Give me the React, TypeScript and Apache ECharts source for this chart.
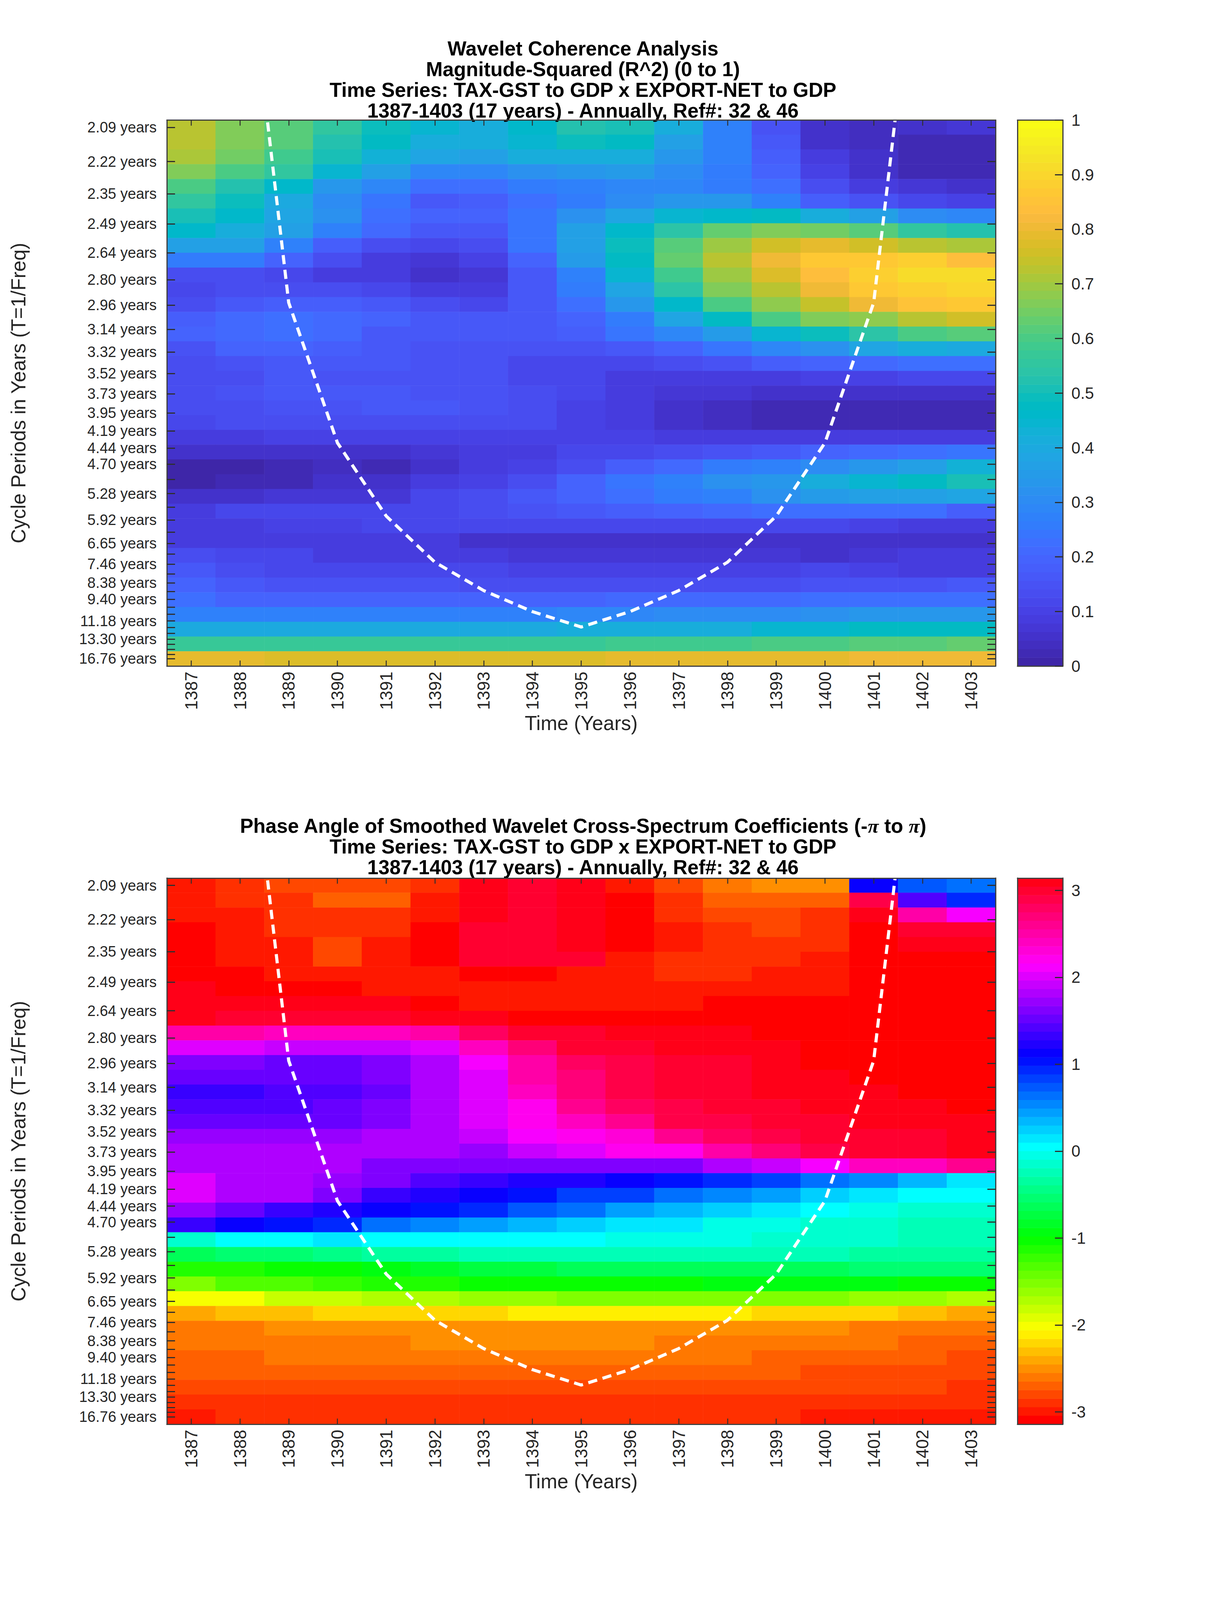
import React, { useEffect, useRef } from "react";
import * as echarts from "echarts";

const years = ["1387","1388","1389","1390","1391","1392","1393","1394","1395","1396","1397","1398","1399","1400","1401","1402","1403"];
const tickPeriods = [2.095,2.22,2.352,2.491,2.64,2.797,2.963,3.139,3.326,3.524,3.733,3.955,4.19,4.439,4.703,4.983,5.279,5.593,5.926,6.278,6.652,7.047,7.466,7.91,8.38,8.879,9.407,9.966,10.559,11.187,11.852,12.557,13.304,14.095,14.933,15.821,16.76];
const tickLabels = ["2.09","2.22","2.35","2.49","2.64","2.80","2.96","3.14","3.32","3.52","3.73","3.95","4.19","4.44","4.70","","5.28","","5.92","","6.65","","7.46","","8.38","","9.40","","","11.18","","","13.30","","","","16.76"];
const coiPeriods = [null,1.5,2.945,4.36,5.82,7.38,8.83,10.34,11.82,10.34,8.83,7.38,5.82,4.36,2.945,1.5,null];

const coherence = [
[.73,.67,.61,.55,.49,.44,.42,.46,.53,.51,.41,.28,.15,.05,.04,.05,.07],
[.73,.67,.61,.53,.47,.42,.42,.45,.49,.47,.37,.27,.16,.06,.04,.03,.03],
[.71,.65,.58,.50,.43,.39,.37,.41,.41,.41,.34,.27,.18,.09,.05,.03,.03],
[.67,.60,.55,.45,.36,.29,.29,.32,.34,.35,.31,.26,.19,.10,.06,.03,.03],
[.60,.53,.46,.34,.29,.23,.23,.25,.28,.29,.29,.26,.22,.13,.09,.07,.06],
[.55,.49,.40,.31,.24,.17,.18,.22,.26,.30,.33,.33,.27,.18,.15,.11,.10],
[.50,.46,.38,.32,.23,.19,.19,.24,.32,.39,.45,.46,.47,.42,.36,.30,.29],
[.46,.42,.37,.27,.21,.17,.17,.24,.37,.46,.54,.63,.67,.65,.61,.55,.53],
[.36,.36,.27,.18,.13,.12,.14,.24,.37,.49,.62,.70,.76,.79,.76,.73,.71],
[.26,.26,.19,.13,.08,.07,.10,.20,.35,.47,.63,.73,.81,.87,.87,.88,.83],
[.14,.14,.12,.08,.08,.06,.07,.16,.28,.44,.59,.70,.78,.83,.88,.92,.91],
[.12,.13,.14,.13,.12,.08,.09,.16,.25,.39,.54,.66,.72,.81,.87,.89,.90],
[.13,.16,.18,.18,.17,.14,.12,.16,.23,.33,.46,.60,.68,.74,.81,.85,.87],
[.18,.21,.23,.21,.20,.17,.16,.16,.19,.26,.38,.47,.60,.67,.68,.72,.75],
[.19,.21,.23,.21,.17,.17,.17,.16,.18,.24,.29,.35,.44,.49,.54,.60,.62],
[.15,.19,.19,.18,.17,.15,.15,.15,.15,.17,.20,.24,.29,.32,.39,.42,.40],
[.13,.15,.16,.16,.16,.15,.15,.12,.11,.11,.13,.15,.18,.20,.21,.22,.22],
[.13,.14,.16,.15,.15,.15,.15,.11,.11,.09,.09,.09,.09,.10,.10,.12,.11],
[.14,.15,.16,.16,.16,.15,.15,.13,.11,.09,.07,.07,.05,.06,.06,.06,.06],
[.13,.14,.15,.15,.16,.16,.15,.14,.10,.08,.06,.04,.03,.02,.02,.02,.02],
[.12,.13,.14,.14,.14,.14,.13,.13,.10,.08,.06,.04,.03,.03,.02,.02,.02],
[.08,.09,.10,.10,.10,.10,.10,.10,.10,.10,.08,.08,.08,.08,.08,.09,.09],
[.05,.05,.06,.06,.06,.07,.08,.09,.11,.12,.14,.15,.16,.19,.21,.22,.24],
[.01,.01,.03,.04,.03,.05,.08,.10,.13,.18,.21,.26,.28,.31,.34,.36,.43],
[.01,.02,.03,.05,.06,.08,.10,.14,.19,.24,.27,.32,.34,.42,.44,.47,.51],
[.05,.05,.07,.07,.07,.11,.13,.16,.20,.23,.26,.28,.32,.35,.36,.37,.38],
[.08,.11,.11,.12,.11,.12,.14,.15,.16,.18,.19,.21,.22,.23,.22,.22,.18],
[.09,.09,.10,.10,.11,.11,.11,.11,.11,.11,.11,.11,.11,.11,.10,.09,.09],
[.08,.08,.08,.08,.08,.08,.06,.06,.06,.06,.06,.06,.05,.05,.05,.05,.05],
[.13,.11,.11,.09,.09,.09,.09,.07,.07,.07,.07,.07,.07,.05,.07,.08,.08],
[.17,.14,.12,.12,.12,.11,.11,.10,.10,.10,.10,.10,.10,.11,.10,.09,.09],
[.19,.16,.15,.15,.15,.15,.14,.14,.14,.14,.14,.14,.14,.15,.15,.15,.17],
[.22,.20,.20,.20,.20,.20,.20,.20,.20,.21,.21,.21,.21,.22,.22,.22,.23],
[.28,.28,.27,.27,.27,.27,.27,.28,.29,.29,.30,.30,.31,.32,.33,.33,.34],
[.40,.40,.40,.40,.40,.40,.40,.40,.41,.41,.41,.42,.44,.45,.47,.47,.48],
[.57,.57,.57,.57,.57,.57,.57,.57,.57,.58,.58,.58,.60,.60,.62,.62,.64],
[.79,.79,.77,.77,.77,.77,.77,.77,.78,.79,.79,.79,.79,.79,.81,.81,.81],
];

const phase = [
[-3.0,-2.9,-2.8,-2.8,-2.8,-2.9,3.1,3.0,3.1,-3.0,-2.8,-2.6,-2.5,-2.5,1.17,.72,.65],
[-3.0,-2.9,-2.9,-2.7,-2.7,-3.0,3.1,3.0,3.1,-3.12,-2.9,-2.7,-2.7,-2.7,2.9,1.45,.98],
[-3.0,-3.0,-2.9,-2.9,-2.9,-3.0,3.1,3.0,3.1,-3.12,-2.9,-2.8,-2.8,-2.9,3.05,2.5,2.1],
[-3.12,-3.0,-2.9,-2.9,-2.9,-3.12,3.0,3.0,3.1,-3.12,-3.0,-2.9,-2.8,-2.9,-3.12,3.0,3.0],
[-3.12,-3.0,-3.0,-2.8,-3.0,-3.12,3.0,3.0,3.1,-3.12,-3.0,-2.9,-2.9,-2.9,-3.12,3.05,3.05],
[-3.12,-3.0,-3.0,-2.8,-3.0,-3.12,3.0,3.0,3.0,-3.0,-2.9,-2.9,-2.9,-3.0,-3.12,-3.12,-3.12],
[-3.12,-3.12,-3.0,-3.0,-3.0,-3.0,-3.12,-3.12,-3.0,-3.0,-2.85,-2.85,-3.0,-3.0,-3.12,-3.12,-3.12],
[3.1,-3.12,-3.12,-3.12,-3.0,-3.0,-3.0,-3.0,-3.0,-3.0,-3.0,-3.0,-3.0,-3.0,-3.12,-3.12,-3.12],
[3.05,3.05,3.07,3.07,3.07,-3.12,-3.0,-3.0,-3.0,-3.0,-3.0,-3.12,-3.12,-3.12,-3.12,-3.12,-3.12],
[3.05,3.0,3.0,3.0,3.0,3.05,3.1,-3.12,-3.12,-3.12,-3.12,-3.12,-3.12,-3.12,-3.12,-3.12,-3.12],
[2.55,2.55,2.45,2.45,2.4,2.55,2.8,2.95,3.0,3.05,3.05,3.05,-3.12,-3.12,-3.12,-3.12,-3.12],
[2.0,2.0,1.9,1.9,1.9,2.05,2.4,2.7,2.95,3.0,3.05,3.07,3.1,-3.12,-3.12,-3.12,-3.12],
[1.6,1.6,1.55,1.55,1.65,1.78,2.15,2.5,2.75,2.9,2.97,3.02,3.05,-3.12,-3.12,-3.12,-3.12],
[1.5,1.5,1.5,1.5,1.6,1.78,2.05,2.5,2.7,2.85,3.0,3.0,3.05,3.05,-3.12,-3.12,-3.12],
[1.3,1.3,1.42,1.42,1.55,1.8,2.05,2.4,2.7,2.85,2.95,2.97,3.05,3.05,3.08,-3.12,-3.12],
[1.45,1.45,1.45,1.55,1.65,1.8,2.05,2.25,2.65,2.8,2.9,2.95,3.0,3.05,3.05,3.05,-3.12],
[1.5,1.5,1.5,1.55,1.65,1.8,2.05,2.2,2.4,2.65,2.85,2.9,2.95,3.0,3.07,3.07,3.07],
[1.7,1.7,1.7,1.7,1.85,1.85,1.95,2.1,2.2,2.3,2.6,2.8,2.9,3.0,3.0,3.0,3.07],
[1.8,1.8,1.8,1.8,1.8,1.8,1.75,1.95,2.0,2.2,2.2,2.5,2.7,2.9,2.95,2.97,3.05],
[1.85,1.85,1.78,1.78,1.65,1.65,1.65,1.65,1.65,1.65,1.65,1.78,1.9,2.1,2.4,2.4,2.65],
[1.97,1.85,1.78,1.7,1.6,1.42,1.3,1.25,1.2,1.1,1.05,.98,.87,.65,.52,.3,.1],
[1.97,1.85,1.78,1.6,1.35,1.25,1.1,1.05,.87,.8,.6,.55,.4,.2,.1,.02,.02],
[1.75,1.55,1.35,1.2,1.08,1.0,.95,.72,.62,.42,.35,.2,.1,.02,-.02,-.1,-.1],
[1.3,1.1,1.05,.9,.68,.58,.42,.3,.2,.1,.1,-.02,-.02,-.1,-.1,-.2,-.2],
[-.18,0,0,.1,.05,.05,0,0,0,-.08,-.08,-.08,-.15,-.15,-.15,-.22,-.22],
[-.65,-.55,-.55,-.42,-.38,-.32,-.25,-.25,-.25,-.25,-.25,-.25,-.25,-.25,-.32,-.32,-.32],
[-1.15,-1.15,-1.05,-1.02,-.95,-.8,-.7,-.7,-.65,-.65,-.65,-.65,-.6,-.6,-.55,-.55,-.55],
[-1.5,-1.35,-1.35,-1.2,-1.12,-1.1,-1.05,-1.05,-1.05,-1.05,-1.05,-.95,-.95,-.95,-.95,-1.0,-1.0],
[-1.97,-1.97,-1.85,-1.85,-1.75,-1.7,-1.65,-1.6,-1.5,-1.5,-1.5,-1.5,-1.5,-1.5,-1.65,-1.65,-1.75],
[-2.4,-2.3,-2.3,-2.2,-2.2,-2.2,-2.2,-2.1,-2.1,-2.1,-2.1,-2.1,-2.2,-2.2,-2.2,-2.3,-2.4],
[-2.6,-2.6,-2.5,-2.5,-2.5,-2.5,-2.5,-2.5,-2.5,-2.5,-2.5,-2.5,-2.5,-2.5,-2.6,-2.6,-2.6],
[-2.6,-2.6,-2.6,-2.6,-2.6,-2.5,-2.5,-2.5,-2.5,-2.5,-2.6,-2.6,-2.6,-2.6,-2.6,-2.7,-2.7],
[-2.7,-2.7,-2.6,-2.6,-2.6,-2.6,-2.6,-2.6,-2.6,-2.6,-2.6,-2.6,-2.7,-2.7,-2.7,-2.7,-2.8],
[-2.7,-2.7,-2.7,-2.7,-2.7,-2.7,-2.7,-2.7,-2.7,-2.7,-2.7,-2.7,-2.7,-2.8,-2.8,-2.8,-2.8],
[-2.8,-2.8,-2.8,-2.8,-2.8,-2.8,-2.8,-2.8,-2.8,-2.8,-2.8,-2.8,-2.8,-2.8,-2.8,-2.8,-2.9],
[-2.9,-2.9,-2.9,-2.9,-2.9,-2.9,-2.9,-2.9,-2.9,-2.9,-2.9,-2.9,-2.9,-2.9,-2.9,-2.9,-2.9],
[-3.0,-2.9,-2.9,-2.9,-2.9,-2.9,-2.9,-2.9,-2.9,-2.9,-2.9,-2.9,-2.9,-3.0,-3.0,-3.0,-3.0],
];

const parula = [[.2422,.1504,.6603],[.2504,.165,.7076],[.2578,.1818,.7511],[.2647,.1978,.7952],[.2706,.2147,.8364],[.2751,.2342,.871],[.2783,.2559,.8991],[.2803,.2782,.9221],[.2813,.3006,.9414],[.281,.3228,.9579],[.2795,.3447,.9717],[.276,.3667,.9829],[.2699,.3892,.9906],[.2602,.4123,.9952],[.244,.4358,.9988],[.2206,.4603,.9973],[.1963,.4847,.9892],[.1834,.5074,.9798],[.1786,.5289,.9682],[.1764,.5499,.952],[.1687,.5703,.9359],[.154,.5902,.9218],[.146,.6091,.9079],[.138,.6276,.8973],[.1248,.6459,.8883],[.1113,.6635,.8763],[.0952,.6798,.8598],[.0689,.6948,.8394],[.0297,.7082,.8163],[.0036,.7203,.7917],[.0067,.7312,.766],[.0433,.7411,.7394],[.0964,.75,.712],[.1408,.7584,.6842],[.1717,.767,.6554],[.1938,.7758,.6251],[.2161,.7843,.5923],[.247,.7918,.5567],[.2906,.7973,.5188],[.3406,.8008,.4789],[.3909,.8029,.4354],[.4456,.8024,.3909],[.5044,.7993,.348],[.5616,.7942,.3045],[.6174,.7876,.2612],[.672,.7793,.2227],[.7242,.7698,.191],[.7738,.7598,.1646],[.8203,.7498,.1535],[.8634,.7406,.1596],[.9035,.733,.1774],[.9393,.7288,.21],[.9728,.7298,.2394],[.9956,.7434,.2371],[.997,.7659,.2199],[.9952,.7861,.1996],[.9892,.8134,.1885],[.9786,.8386,.1766],[.9676,.8639,.1643],[.961,.889,.1537],[.9597,.9135,.1423],[.9628,.9373,.1265],[.9691,.9606,.1064],[.9769,.9839,.0805]];

const FONT = "Liberation Sans";
const INK = "#262626";
const LEVELS = 64;
const F_TOP = 0.4831;
const F_BOTTOM = 0.05384;
const PI = Math.PI;
const FULL_H = 6252;

const toHex = (c: number[]) => "#" + c.map((v) => Math.round(v * 255).toString(16).padStart(2, "0")).join("");
const parulaColors = parula.map(toHex);
const hsvColors = Array.from({ length: LEVELS }, (_, k) => {
  const h = (k / LEVELS) * 6;
  const i = Math.floor(h);
  const f = h - i;
  const table = [[1, f, 0], [1 - f, 1, 0], [0, 1, f], [0, 1 - f, 1], [f, 0, 1], [1, 0, 1 - f]];
  return toHex(table[i]);
});

const pieces = (colors: string[], min: number, max: number) =>
  colors.map((color, k) => ({
    gte: min + ((max - min) * k) / LEVELS,
    lt: k === LEVELS - 1 ? max + 1 : min + ((max - min) * (k + 1)) / LEVELS,
    color,
  }));

const tickValues = tickPeriods.map((p) => 1 / p);
const labelValues = tickValues.filter((_, i) => tickLabels[i] !== "");
const labelOf = (v: number) => {
  const i = tickValues.indexOf(v);
  return i >= 0 && tickLabels[i] ? `${tickLabels[i]} years` : "";
};

const textStyle = { fontFamily: FONT, color: INK };
const axisLine = { show: true, onZero: false, lineStyle: { color: "#404040", width: 3 } };

// The browser window may be shorter than the 6252px asked for; K keeps the
// reference's layout proportions so that the whole figure stays in view.
function buildOption(K: number) {
  const squeezed = K < 1;
  const fs = squeezed ? 0.8 : 1;
  const grid: any[] = [];
  const xAxis: any[] = [];
  const yAxis: any[] = [];
  const series: any[] = [];

  const PLOT = { left: 427, width: 2121, height: 2134 * K };
  const BAR = { left: 2604, width: 116 };

  const addPanel = (top: number, rows: number[][], colors: string[], min: number, max: number, barTicks: any) => {
    const g = grid.length;
    grid.push({ ...PLOT, top, containLabel: false });
    grid.push({ ...BAR, top, height: PLOT.height, containLabel: false });
    const x0 = xAxis.length;
    const y0 = yAxis.length;
    const tick = { show: true, inside: true, alignWithLabel: true, length: 22 * K, lineStyle: { color: "#303030", width: 2.5 } };
    xAxis.push({
      gridIndex: g, type: "category", data: years, position: "bottom", z: 10, axisLine, axisTick: tick,
      axisLabel: { ...textStyle, fontSize: squeezed ? 44 : 58, rotate: 90, margin: squeezed ? 14 : 26 },
      name: "Time (Years)", nameLocation: "middle", nameGap: squeezed ? 121 : 179,
      nameTextStyle: { ...textStyle, fontSize: 64 * fs },
    });
    xAxis.push({ gridIndex: g, type: "category", data: years, position: "top", z: 10, axisLine, axisTick: tick, axisLabel: { show: false } });
    xAxis.push({ gridIndex: g + 1, type: "category", data: ["bar"], position: "bottom", z: 10, axisLine, axisTick: { show: false }, axisLabel: { show: false } });
    xAxis.push({ gridIndex: g + 1, type: "category", data: ["bar"], position: "top", z: 10, axisLine, axisTick: { show: false }, axisLabel: { show: false } });
    const yTick = { show: true, inside: true, length: 21, customValues: tickValues, lineStyle: { color: "#303030", width: 3 } };
    yAxis.push({ gridIndex: g, type: "category", inverse: true, data: tickPeriods.map(String), position: "left", axisLine: { show: false }, axisTick: { show: false }, axisLabel: { show: false } });
    yAxis.push({
      gridIndex: g, type: "value", position: "left", min: F_BOTTOM, max: F_TOP, z: 10, splitLine: { show: false }, axisLine, axisTick: yTick,
      axisLabel: { ...textStyle, fontSize: squeezed ? 38 : 58, margin: 26, customValues: labelValues, formatter: labelOf, hideOverlap: false },
      name: "Cycle Periods in Years (T=1/Freq)", nameLocation: "middle", nameRotate: 90, nameGap: squeezed ? 354 : 349,
      nameTextStyle: { ...textStyle, fontSize: 64 * fs },
    });
    yAxis.push({ gridIndex: g, type: "value", position: "right", min: F_BOTTOM, max: F_TOP, z: 10, splitLine: { show: false }, axisLine, axisTick: yTick, axisLabel: { show: false } });
    const levelNames = colors.map((_, k) => String(k));
    yAxis.push({ gridIndex: g + 1, type: "category", data: levelNames, position: "left", z: 10, axisLine, axisTick: { show: false }, axisLabel: { show: false } });
    yAxis.push({
      gridIndex: g + 1, type: "value", position: "right", min, max, z: 10, splitLine: { show: false }, axisLine,
      axisTick: { show: true, inside: true, length: 20, customValues: barTicks, lineStyle: { color: "#303030", width: 3 } },
      axisLabel: { ...textStyle, fontSize: 52 * fs, margin: 22, customValues: barTicks, hideOverlap: false, formatter: (v: number) => String(Math.round(v * 10) / 10) },
    });
    const heatData: any[] = [];
    rows.forEach((row, r) => row.forEach((v, c) => heatData.push([c, r, v])));
    series.push({ type: "heatmap", xAxisIndex: x0, yAxisIndex: y0, data: heatData, itemStyle: { borderWidth: 0 }, emphasis: { disabled: true }, progressive: 0 });
    series.push({
      type: "line", xAxisIndex: x0, yAxisIndex: y0 + 1, z: 5, showSymbol: false, symbol: "none", clip: true, connectNulls: false,
      data: coiPeriods.map((p) => (p === null ? null : 1 / p)),
      lineStyle: { color: "#ffffff", width: 8, type: [36 * K, 22 * K], cap: "butt" },
    });
    series.push({
      type: "heatmap", xAxisIndex: x0 + 2, yAxisIndex: y0 + 3, progressive: 0, emphasis: { disabled: true },
      data: colors.map((_, k) => [0, k, min + ((max - min) * (k + 0.5)) / LEVELS]),
    });
    return { heat: series.length - 3, bar: series.length - 1 };
  };

  const a = addPanel(469 * K, coherence, parulaColors, 0, 1, [0, .1, .2, .3, .4, .5, .6, .7, .8, .9, 1]);
  const b = addPanel(3431 * K, phase, hsvColors, -PI, PI, [-3, -2, -1, 0, 1, 2, 3]);

  const titleSize = 64 * fs;
  const lineHeight = 81 * K;
  const titleBase = { left: 1487, textAlign: "center" };
  const titleText = { fontFamily: FONT, fontSize: titleSize, fontWeight: "bold", color: "#000", lineHeight };
  const titleOffset = lineHeight / 2 + 3;
  return {
    animation: false,
    backgroundColor: "#fff",
    title: [
      {
        ...titleBase, top: 187 * K - titleOffset, textStyle: titleText,
        text: "Wavelet Coherence Analysis\nMagnitude-Squared (R^2) (0 to 1)\nTime Series: TAX-GST to GDP x EXPORT-NET to GDP\n1387-1403 (17 years) - Annually, Ref#: 32 & 46",
      },
      {
        ...titleBase, top: 3225 * K - titleOffset,
        textStyle: { ...titleText, rich: { pi: { fontFamily: "Liberation Serif", fontStyle: "italic", fontWeight: "bold", fontSize: titleSize, lineHeight, color: "#000" } } },
        text: "Phase Angle of Smoothed Wavelet Cross-Spectrum Coefficients (-{pi|π} to {pi|π})\nTime Series: TAX-GST to GDP x EXPORT-NET to GDP\n1387-1403 (17 years) - Annually, Ref#: 32 & 46",
      },
    ],
    visualMap: [
      { type: "piecewise", show: false, seriesIndex: [a.heat, a.bar], dimension: 2, pieces: pieces(parulaColors, 0, 1) },
      { type: "piecewise", show: false, seriesIndex: [b.heat, b.bar], dimension: 2, pieces: pieces(hsvColors, -PI, PI) },
    ],
    grid, xAxis, yAxis, series,
  };
}

export default function App() {
  const ref = useRef<HTMLDivElement>(null);
  const height = Math.min(FULL_H, window.innerHeight || FULL_H);
  useEffect(() => {
    document.body.style.margin = "0";
    const chart = echarts.init(ref.current!, undefined, { renderer: "svg", width: 3125, height });
    chart.setOption(buildOption(height / FULL_H) as any);
    return () => chart.dispose();
  }, [height]);
  return <div ref={ref} style={{ width: 3125, height, background: "#fff" }} />;
}
